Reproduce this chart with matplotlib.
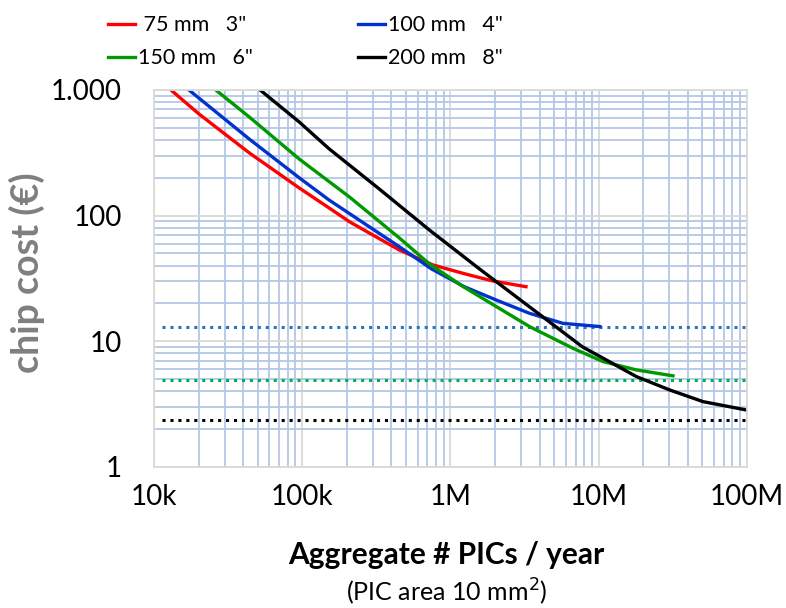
import matplotlib
matplotlib.use("Agg")
import matplotlib.pyplot as plt
from matplotlib.ticker import LogLocator, NullFormatter, FixedLocator
import numpy as np

plt.rcParams['font.family'] = ['Lato', 'DejaVu Sans']
plt.rcParams['ytick.major.pad'] = 23
plt.rcParams['xtick.major.pad'] = 12

# wafer size curves: aggregate PICs / year vs chip cost (EUR)
red_x = [13.0e3, 20.1e3, 43.9e3, 95.5e3, 152e3, 208e3, 452e3, 759e3, 1.21e6, 1.93e6, 3.24e6]
red_y = [1000, 644, 316, 166, 115, 89.5, 53.3, 40.6, 34.8, 30.2, 27.2]

blue_x = [17.2e3, 43.9e3, 95.5e3, 152e3, 208e3, 452e3, 745e3, 1.24e6, 2.04e6, 3.42e6,
          5.74e6, 10.2e6]
blue_y = [1000, 407, 200, 133, 104, 56.6, 37.7, 27.2, 21.3, 16.7, 13.9, 13.1]

green_x = [26.1e3, 43.9e3, 95.5e3, 208e3, 452e3, 721e3, 1.21e6, 2.04e6, 3.42e6, 6.70e6,
           10.7e6, 18.0e6, 31.8e6]
green_y = [1000, 610, 282, 141, 66.5, 41.3, 27.4, 18.9, 13.1, 8.81, 6.90, 5.92, 5.31]

black_x = [52.0e3, 95.5e3, 152e3, 331e3, 721e3, 1.57e6, 3.42e6, 7.80e6, 10.7e6, 18.0e6,
           30.2e6, 50.7e6, 99.5e6]
black_y = [1000, 556, 340, 163, 76.9, 37.7, 18.8, 9.02, 7.35, 5.24, 4.10, 3.31, 2.84]

labels = [' 75 mm   3"', '100 mm   4"', '150 mm   6"', '200 mm   8"']

# asymptotic cost levels (dotted)
ref_x = [11.3e3, 1e8]
ref_blue = 13.0
ref_green = 4.93
ref_black = 2.37

xticks = [1e4, 1e5, 1e6, 1e7, 1e8]
xlabels = ['10k', '100k', '1M', '10M', '100M']
yticks = [1, 10, 100, 1000]
ylabels = ['1', '10', '100', '1.000']

fig = plt.figure(figsize=(7.86, 6.08), dpi=100)
ax = fig.add_axes([0.196, 0.232, 0.754, 0.620])

ax.set_xscale('log')
ax.set_yscale('log')
ax.set_xlim(1e4, 1e8)
ax.set_ylim(1, 1000)

ax.xaxis.set_minor_locator(LogLocator(base=10, subs=np.arange(2, 10)))
ax.yaxis.set_minor_locator(LogLocator(base=10, subs=np.arange(2, 10)))
ax.xaxis.set_minor_formatter(NullFormatter())
ax.yaxis.set_minor_formatter(NullFormatter())
ax.grid(which='minor', color='#b4c7e7', lw=1.3)
ax.grid(which='major', color='#d9d9d9', lw=1.3)
ax.set_axisbelow(True)

ax.xaxis.set_major_locator(FixedLocator(xticks))
ax.set_xticklabels(xlabels)
ax.yaxis.set_major_locator(FixedLocator(yticks))
ax.set_yticklabels(ylabels)
ax.tick_params(which='both', length=0, labelsize=20, colors='black')
for s in ax.spines.values():
    s.set_color('#d9d9d9')
    s.set_linewidth(1.3)

ax.plot(ref_x, [ref_blue] * 2, color='#2e75b6', lw=2.2, ls=(0, (1, 1.6)))
ax.plot(ref_x, [ref_green] * 2, color='#00b050', lw=2.2, ls=(0, (1, 1.6)))
ax.plot(ref_x, [ref_black] * 2, color='black', lw=2.2, ls=(0, (1, 1.6)))

l1, = ax.plot(red_x, red_y, color='#ff0000', lw=2.4, solid_joinstyle='round')
l2, = ax.plot(blue_x, blue_y, color='#0033cc', lw=2.4, solid_joinstyle='round')
l3, = ax.plot(green_x, green_y, color='#009900', lw=2.4, solid_joinstyle='round')
l4, = ax.plot(black_x, black_y, color='black', lw=2.4, solid_joinstyle='round')

leg_kw = dict(frameon=False, fontsize=15.5, loc='upper left', handlelength=1.25,
              handletextpad=0.15, labelspacing=0.6, borderpad=0, borderaxespad=0)
leg1 = fig.legend([l1, l3], [labels[0], labels[2]], bbox_to_anchor=(0.137, 0.975), **leg_kw)
leg2 = fig.legend([l2, l4], [labels[1], labels[3]], bbox_to_anchor=(0.455, 0.975), **leg_kw)

fig.text(0.034, 0.551, 'chip cost (€)', rotation=90, ha='center', va='center',
         fontsize=27, fontweight='bold', color='#7f7f7f')
fig.text(0.568, 0.087, 'Aggregate # PICs / year', ha='center', va='center',
         fontsize=21.5, fontweight='bold')
fig.text(0.568, 0.026, '(PIC area 10 mm$^2$)', ha='center', va='center', fontsize=18)

fig.savefig('out.png', dpi=100)
